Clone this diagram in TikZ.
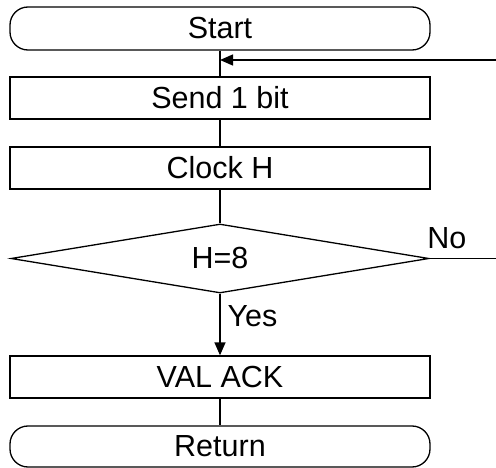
\documentclass[tikz,border=0pt]{standalone}
\usepackage{fontspec}
\setmainfont{Liberation Sans}
\usetikzlibrary{arrows.meta,calc,positioning,shapes.geometric}
\newcommand{\chartfont}{\fontsize{30.5}{36}\selectfont}
\tikzset{
  flowline/.style={line width=1.3pt,draw=black},
  flowarrow/.style={flowline,-{Triangle[length=13pt,width=11pt]}},
  process/.style={draw,line width=1.3pt,minimum width=420pt,minimum height=42pt,inner sep=0pt,font=\chartfont},
  terminal/.style={process,rounded corners=18pt},
  decision/.style={draw,diamond,line width=1.3pt,aspect=6,minimum width=418pt,minimum height=69pt,inner sep=0pt,font=\chartfont},
  branch/.style={font=\chartfont,inner sep=0pt}
}
\begin{document}
\begin{tikzpicture}[x=1pt,y=-1pt]
  \useasboundingbox (0,0) rectangle (496,468);
  \node[terminal,minimum height=43pt] (start) at (220,28.5) {Start};
  \node[process] (send) at (220,98) {Send 1 bit};
  \node[process] (clock) at (220,168) {Clock H};
  \node[decision] (test) at (220,258.5) {H=8};
  \node[process] (ack) at (220,377) {VAL ACK};
  \node[terminal,minimum height=41pt] (ret) at (220,446.5) {Return};
  \coordinate (loop) at (496,60);
  \coordinate (nout) at (496,258.5);
  \draw[flowline] (start) -- (send);
  \draw[flowarrow] (loop) -- (loop -| start);
  \draw[flowline] (send) -- (clock);
  \draw[flowline] (clock) -- (test);
  \draw[flowline] (test.east) -- node[branch,pos=0,anchor=base west,xshift=-3pt,yshift=9.5pt]{No} (nout);
  \draw[flowarrow] (test) -- node[branch,pos=0.365,anchor=west,xshift=7pt]{Yes} (ack);
  \draw[flowline] (ack) -- (ret);
\end{tikzpicture}
\end{document}
